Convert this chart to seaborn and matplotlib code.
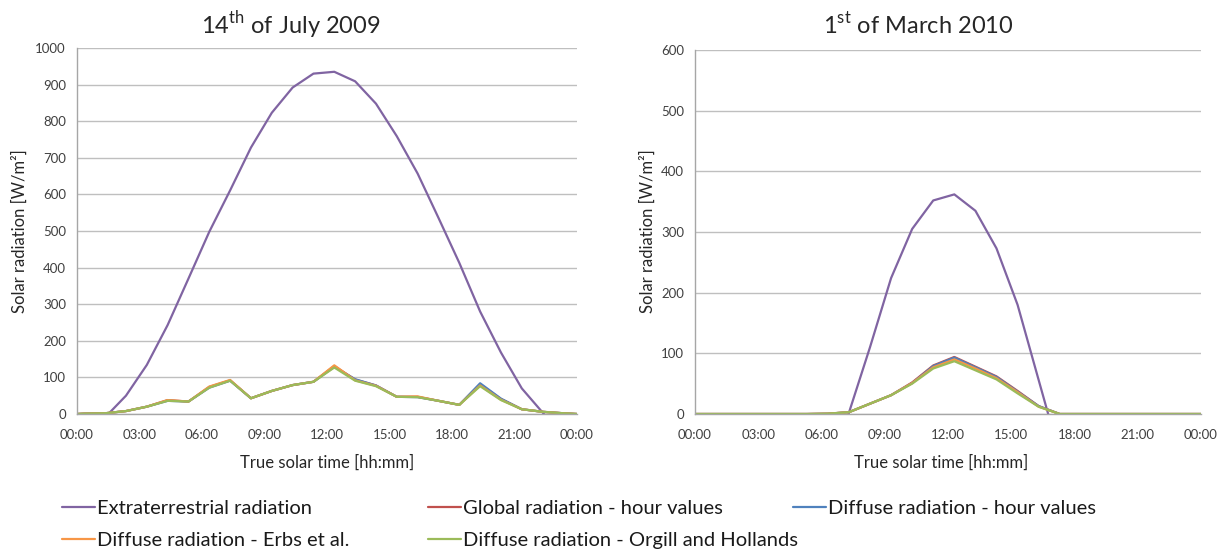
import numpy as np
import pandas as pd
import seaborn as sns
import matplotlib
matplotlib.use("Agg")
import matplotlib.pyplot as plt
from matplotlib.lines import Line2D

# ---- data ----
series_names = ["Extraterrestrial radiation",
                "Global radiation - hour values",
                "Diffuse radiation - hour values",
                "Diffuse radiation - Erbs et al.",
                "Diffuse radiation - Orgill and Hollands"]
series_colors = ["#8064A2", "#C0504D", "#4F81BD", "#F79646", "#9BBB59"]

tick_hours = [0, 3, 6, 9, 12, 15, 18, 21, 24]
tick_labels = ["00:00", "03:00", "06:00", "09:00", "12:00", "15:00", "18:00", "21:00", "00:00"]

# 14th of July 2009
hours_jul = [0.0, 0.35, 1.35, 2.35, 3.35, 4.35, 5.35, 6.35, 7.35, 8.35, 9.35, 10.35, 11.35,
             12.35, 13.35, 14.35, 15.35, 16.35, 17.35, 18.35, 19.35, 20.35, 21.35, 22.35, 23.35, 24.0]
hours_jul_ext = [1.35, 2.35, 3.35, 4.35, 5.35, 6.35, 7.35, 8.35, 9.35, 10.35, 11.35, 12.35,
                 13.35, 14.35, 15.35, 16.35, 17.35, 18.35, 19.35, 20.35, 21.35, 22.35, 23.35]
ext_jul = [-9, 50, 134, 243, 370, 498, 611, 728, 823, 892, 930, 935,
           909, 848, 759, 657, 536, 413, 280, 168, 70, 4, -60]
glob_jul = [0, 1, 2, 8, 20, 38, 34, 74, 92, 43, 63, 79, 88,
            131, 94, 78, 47, 47, 36, 25, 81, 41, 13, 6, 2, 0]
diff_jul = [0, 1, 2, 8, 20, 36, 34, 72, 91, 43, 63, 79, 88,
            129, 95, 78, 47, 46, 36, 25, 84, 42, 13, 6, 2, 0]
erbs_jul = [0, 1, 2, 8, 20, 38, 34, 75, 93, 43, 63, 79, 88,
            133, 92, 77, 47, 48, 36, 25, 78, 39, 13, 6, 2, 0]
orgill_jul = [0, 1, 2, 8, 20, 36, 34, 72, 91, 43, 63, 79, 88,
              127, 91, 76, 47, 46, 36, 25, 76, 38, 13, 6, 2, 0]

# 1st of March 2010
hours_mar = [0.0, 0.3, 1.3, 2.3, 3.3, 4.3, 5.3, 6.3, 7.3, 8.3, 9.3, 10.3, 11.3,
             12.3, 13.3, 14.3, 15.3, 16.3, 17.3, 18.3, 19.3, 20.3, 21.3, 22.3, 23.3, 24.0]
hours_mar_ext = [6.3, 7.3, 8.3, 9.3, 10.3, 11.3, 12.3, 13.3, 14.3, 15.3, 16.3, 17.3]
ext_mar = [-110, 2, 110, 224, 305, 352, 362, 335, 273, 180, 56, -68]
glob_mar = [0, 0, 0, 0, 0, 0, 0, 0.5, 3, 17, 31, 52, 80,
            94, 78, 62, 38, 13, 0, 0, 0, 0, 0, 0, 0, 0]
diff_mar = [0, 0, 0, 0, 0, 0, 0, 0.5, 3, 17, 31, 51, 79,
            93, 77, 61, 37, 13, 0, 0, 0, 0, 0, 0, 0, 0]
erbs_mar = [0, 0, 0, 0, 0, 0, 0, 0.5, 3, 17, 31, 51, 77,
            90, 75, 59, 36, 12, 0, 0, 0, 0, 0, 0, 0, 0]
orgill_mar = [0, 0, 0, 0, 0, 0, 0, 0.5, 3, 17, 31, 50, 75,
              87, 72, 57, 34, 12, 0, 0, 0, 0, 0, 0, 0, 0]


def long_frame(h_ext, ext, h, glob, diff, erbs, orgill):
    parts = [pd.DataFrame({"time": h_ext, "value": ext, "series": series_names[0]})]
    for name, vals in zip(series_names[1:], [glob, diff, erbs, orgill]):
        parts.append(pd.DataFrame({"time": h, "value": vals, "series": name}))
    return pd.concat(parts, ignore_index=True)


df_jul = long_frame(hours_jul_ext, ext_jul, hours_jul, glob_jul, diff_jul, erbs_jul, orgill_jul)
df_mar = long_frame(hours_mar_ext, ext_mar, hours_mar, glob_mar, diff_mar, erbs_mar, orgill_mar)

sns.set_theme(style="white")
plt.rcParams["font.family"] = ["Lato", "DejaVu Sans"]
plt.rcParams["mathtext.fontset"] = "custom"
plt.rcParams["mathtext.rm"] = "Lato"

W, H = 1218, 551
fig = plt.figure(figsize=(W / 100, H / 100), dpi=100)
palette = dict(zip(series_names, series_colors))


def px_axes(x0, y0, x1, y1):
    return fig.add_axes([x0 / W, 1 - y1 / H, (x1 - x0) / W, (y1 - y0) / H])


ax1 = px_axes(77, 48, 577, 414)
ax2 = px_axes(695, 50, 1201, 414)

for ax, df, ymax in [(ax1, df_jul, 1000), (ax2, df_mar, 600)]:
    sns.lineplot(data=df, x="time", y="value", hue="series", hue_order=series_names,
                 palette=palette, sort=False, estimator=None, legend=False,
                 linewidth=1.6, ax=ax)
    ax.set_xlim(0, 24)
    ax.set_ylim(0, ymax)
    ax.set_xticks(tick_hours)
    ax.set_xticklabels(tick_labels)
    ax.set_yticks(np.arange(0, ymax + 1, 100))
    ax.yaxis.grid(True, color="#BFBFBF", linewidth=1)
    ax.set_axisbelow(True)
    for s in ["top", "right"]:
        ax.spines[s].set_visible(False)
    for s in ["left", "bottom"]:
        ax.spines[s].set_color("#A6A6A6")
        ax.spines[s].set_linewidth(1)
    ax.tick_params(axis="x", direction="out", length=4, width=1, color="#A6A6A6",
                   labelsize=9.5, labelcolor="#404040", pad=7)
    ax.tick_params(axis="y", length=0, labelsize=9.5, labelcolor="#404040", pad=8)
    ax.set_xlabel("")
    ax.set_ylabel("")

# titles and axis labels
fig.text(291 / W, 1 - 25 / H, r"14$^{\mathrm{th}}$ of July 2009", ha="center", va="center", fontsize=17)
fig.text(918 / W, 1 - 25 / H, r"1$^{\mathrm{st}}$ of March 2010", ha="center", va="center", fontsize=17)
fig.text(327 / W, 1 - 463 / H, "True solar time [hh:mm]", ha="center", va="center", fontsize=12)
fig.text(941 / W, 1 - 463 / H, "True solar time [hh:mm]", ha="center", va="center", fontsize=12)
fig.text(20 / W, 1 - 231 / H, "Solar radiation [W/m²]", ha="center", va="center", rotation=90, fontsize=12)
fig.text(648 / W, 1 - 231 / H, "Solar radiation [W/m²]", ha="center", va="center", rotation=90, fontsize=12)

# legend: three columns placed like the original
handles = [Line2D([], [], color=c, linewidth=1.6) for c in series_colors]
columns = [([0, 3], 62), ([1, 4], 428), ([2], 793)]
for idx, xpos in columns:
    fig.legend([handles[i] for i in idx], [series_names[i] for i in idx],
               loc="upper left", bbox_to_anchor=(xpos / W, 1 - 500 / H),
               frameon=False, fontsize=14.5, handlelength=1.65, handletextpad=0.1,
               borderpad=0, borderaxespad=0, labelspacing=0.72, labelcolor="#1a1a1a")

fig.savefig("out.png", dpi=100)
